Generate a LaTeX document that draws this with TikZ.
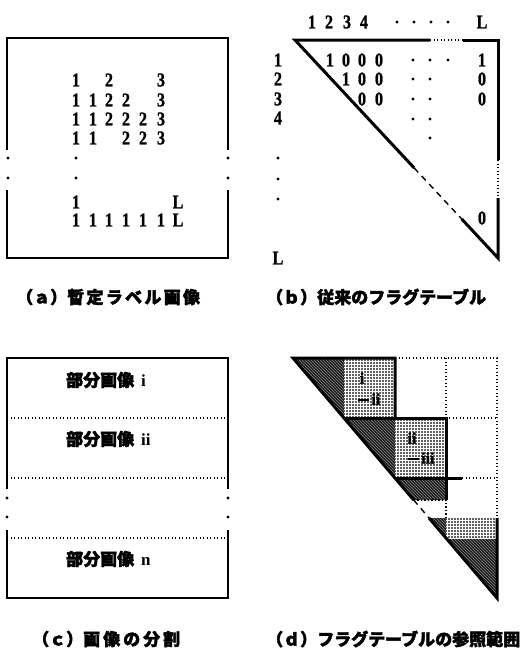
\documentclass[tikz,border=0pt]{standalone}
\usepackage{fontspec}
\setmainfont{Liberation Serif}
\newfontfamily\numfont{Liberation Serif}[FakeBold=1.2]
\newfontfamily\cjkb{Noto Sans CJK JP}[FakeBold=2.2]
\usetikzlibrary{patterns}
\newcommand\nmtxt[1]{\scalebox{0.85}[1.03]{#1}}
\begin{document}
\begin{tikzpicture}[x=1pt,y=-1pt,line join=miter,
 numtxt/.style={font=\fontsize{19}{19}\selectfont\numfont\bfseries, inner sep=0pt},
 smalltxt/.style={font=\fontsize{16}{16}\selectfont\numfont\bfseries, inner sep=0pt},
 captxt/.style={font=\fontsize{17}{17}\selectfont\cjkb\bfseries, inner sep=0pt, anchor=west},
 parttxt/.style={font=\fontsize{17}{17}\selectfont\bfseries, inner sep=0pt, anchor=west},
 boxline/.style={line width=1.4pt},
 thickline/.style={line width=3pt},
 dotline/.style={line width=1.3pt, dash pattern=on 1.3pt off 2.2pt},
 dashline/.style={line width=1.4pt, dash pattern=on 6pt off 5pt},
 dkfill/.style={fill=black!90, postaction={pattern=north west lines, pattern color=black!45}},
 stfill/.style={fill=black!62, postaction={pattern=grid, pattern color=white}},
 smalldot/.style={circle, fill=black, inner sep=0pt, minimum size=3.4pt}]
\useasboundingbox (0,0) rectangle (522,649);

% ---------------- (a) ----------------
\draw[boxline] (7,150) -- (7,38) -- (228,38) -- (228,150);
\draw[boxline] (7,190) -- (7,258) -- (228,258) -- (228,190);
\foreach \x/\y [count=\i] in {8/158,8/178,76/158,76/178,228/158,228/178}
  \node[smalldot] (ad\i) at (\x,\y) {};
\foreach \x/\y/\t [count=\i] in {
  76/80/1,109/80/2,161/80/3,
  76/100/1,93/100/1,109/100/2,126/100/2,161/100/3,
  76/119/1,93/119/1,109/119/2,126/119/2,143/119/2,161/119/3,
  76/138/1,93/138/1,126/138/2,143/138/2,161/138/3,
  76/202/1,178/202/L,
  76/220/1,93/220/1,109/220/1,126/220/1,143/220/1,161/220/1,178/220/L}
  \node[numtxt] (a\i) at (\x,\y) {\nmtxt{\t}};
\node[captxt] (capa) at (16,297) {（ａ）暫\kern2.3pt 定\kern2.3pt ラ\kern2.3pt ベ\kern2.3pt ル\kern2.3pt 画\kern2.3pt 像};

% ---------------- (b) ----------------
\foreach \x/\t [count=\i] in {312/1,329/2,347/3,364/4,482/L}
  \node[numtxt] (bh\i) at (\x,22) {\nmtxt{\t}};
\foreach \x [count=\i] in {397,414,431,448}
  \node[smalldot] (bhd\i) at (\x,22) {};
\foreach \y/\t [count=\i] in {60/1,79/2,99/3,118/4,258/L}
  \node[numtxt] (br\i) at (278,\y) {\nmtxt{\t}};
\foreach \y [count=\i] in {158,179,199}
  \node[smalldot] (brd\i) at (278,\y) {};
\foreach \x/\y/\t [count=\i] in {
  330/60/1,346/60/0,362/60/0,379/60/0,
  346/79/1,362/79/0,379/79/0,
  362/99/0,379/99/0,
  482/60/1,482/79/0,482/99/0,482/218/0}
  \node[numtxt] (b\i) at (\x,\y) {\nmtxt{\t}};
\foreach \x/\y [count=\i] in {413/60,430/60,448/60,413/79,430/79,413/99,430/99,413/119,430/119,430/138}
  \node[smalldot] (bd\i) at (\x,\y) {};
\draw[thickline] (430,40) -- (295,40) -- (414.2,168);
\draw[dotline] (430,40) -- (463,40);
\draw[thickline] (463,40) -- (498,40) -- (498,160);
\draw[dotline] (498,160) -- (498,198);
\draw[thickline] (498,198) -- (498,258) -- (461.7,219);
\draw[dashline] (414.2,168) -- (461.7,219);
\node[captxt] (capb) at (266,297) {（ｂ）従来のフラグテーブル};

% ---------------- (c) ----------------
\draw[boxline] (7,489) -- (7,358) -- (228,358) -- (228,489);
\draw[boxline] (7,530) -- (7,598) -- (228,598) -- (228,530);
\foreach \y in {418,478,538}
  \draw[dotline] (7,\y) -- (228,\y);
\foreach \x/\y [count=\i] in {7/498,7/517,228/498,228/517}
  \node[smalldot] (cd\i) at (\x,\y) {};
\node[parttxt] (c1) at (66,380) {{\cjkb 部分画像}\hspace{7pt}i};
\node[parttxt] (c2) at (66,439) {{\cjkb 部分画像}\hspace{7pt}ii};
\node[parttxt] (c3) at (66,559) {{\cjkb 部分画像}\hspace{7pt}n};
\node[captxt] (capc) at (32,639) {（ｃ）画\kern3pt 像\kern3pt の\kern3pt 分\kern3pt 割};

% ---------------- (d) ----------------
\fill[dkfill] (293,358) -- (344,358) -- (344,418) -- cycle;
\fill[stfill] (344,358) rectangle (395,418);
\fill[dkfill] (344,418) -- (395,418) -- (395,478) -- cycle;
\fill[stfill] (395,418) rectangle (446,478);
\fill[dkfill] (395,478) -- (446,478) -- (446,500) -- (413.7,500) -- cycle;
\fill[dkfill] (429,518) -- (446,518) -- (446,538) -- (497,538) -- (497,598) -- cycle;
\fill[stfill] (446,518) rectangle (497,538);
% dotted grid
\draw[dotline] (395,358) -- (497,358) -- (497,518);
\draw[dotline] (446,358) -- (446,418) -- (497,418);
\draw[dotline] (462,478) -- (497,478);
\draw[dotline] (413.7,500) -- (446,500) -- (446,518);
% thick outlines
\draw[thickline] (413.7,500) -- (293,358) -- (395,358) -- (395,418);
\draw[thickline] (344,418) -- (446,418) -- (446,478);
\draw[thickline] (395,478) -- (462,478);
\draw[thickline] (446,478) -- (446,500);
\draw[thickline] (429,518) -- (497,598) -- (497,518);
\draw[dashline] (413.7,500) -- (429,518);
% labels
\node[smalltxt] (d1) at (362,378) {i};
\node[smalltxt] (d2) at (369,399) {\rule[0.25em]{11pt}{1.6pt}\,ii};
\node[smalltxt] (d3) at (412,438) {ii};
\node[smalltxt] (d4) at (421,458) {\rule[0.25em]{11pt}{1.6pt}\,iii};
\node[captxt] (capd) at (266,639) {（ｄ）フラグテーブルの参照範囲};
\end{tikzpicture}
\end{document}
